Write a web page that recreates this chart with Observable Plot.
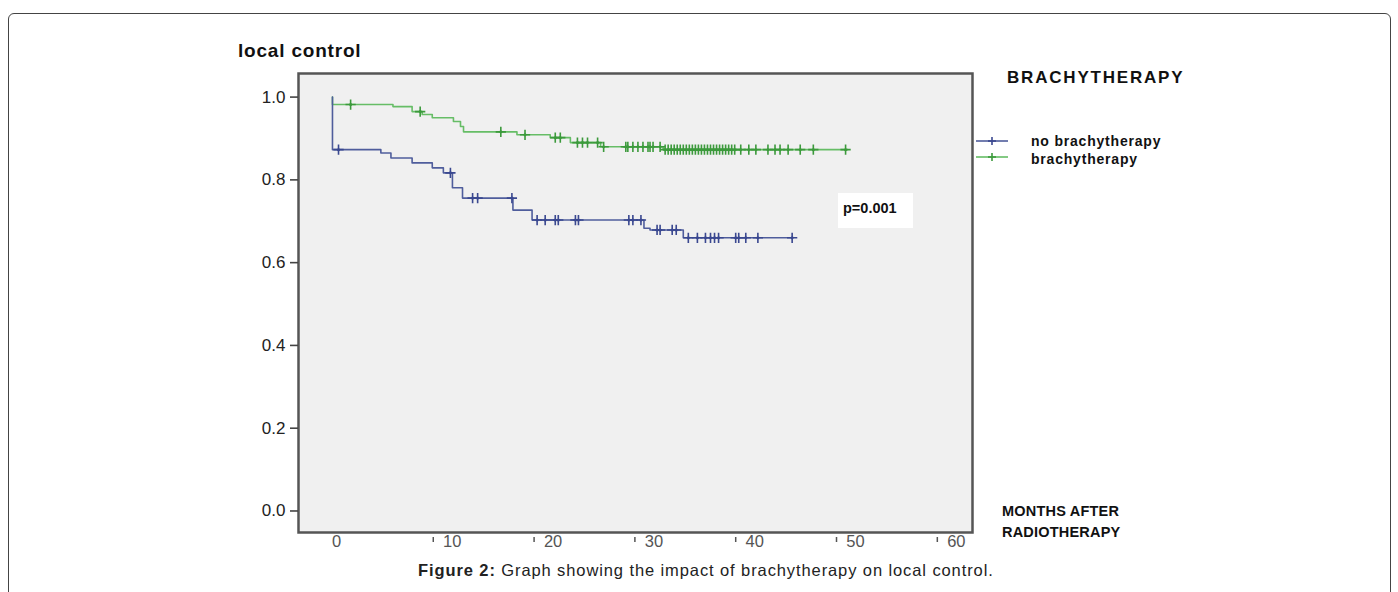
<!DOCTYPE html>
<html>
<head>
<meta charset="utf-8">
<script src="https://cdn.jsdelivr.net/npm/d3@7"></script>
<script src="https://cdn.jsdelivr.net/npm/@observablehq/plot@0.6"></script>
<style>
  html, body { margin: 0; padding: 0; background: #fff; width: 1398px; height: 592px; overflow: hidden; }
  body { position: relative; font-family: "Liberation Sans", Arial, sans-serif; color: #111; }
  .abs { position: absolute; white-space: nowrap; }
  #frame { position: absolute; left: 8px; top: 13px; width: 1381px; height: 640px; border: 1px solid #444; border-radius: 6px; }
  #chart { position: absolute; left: 0; top: 0; }
  .b { font-weight: bold; }
</style>
</head>
<body>
<div id="frame"></div>
<div id="chart"></div>
<div class="abs b" style="left:238px; top:39px; line-height:24px; font-size:19px; letter-spacing:0.8px;">local control</div>
<div class="abs b" style="left:1007px; top:66px; line-height:24px; font-size:17px; letter-spacing:1.8px;">BRACHYTHERAPY</div>
<div id="legend"></div>
<div class="abs" style="left:838px; top:193px; width:75px; height:35px; background:#fff;"></div>
<div class="abs b" style="left:843px; top:199px; line-height:18px; font-size:14.5px;">p=0.001</div>
<div class="abs b" style="left:1002px; top:501px; line-height:21px; font-size:14.5px; letter-spacing:0.2px;">MONTHS AFTER<br>RADIOTHERAPY</div>
<div class="abs" style="left:418px; top:560px; line-height:20px; font-size:16.5px; letter-spacing:0.9px; color:#222;"><span class="b">Figure 2:</span> Graph showing the impact of brachytherapy on local control.</div>
<script>
// ---- Data ----
const groups = ["no brachytherapy", "brachytherapy"];
const groupColors = ["#4f5d9c", "#66bd66"];
const censorColors = ["#3a4890", "#3c9a3c"];

// no brachytherapy: event times (months) and survival after each step
const noBrachyTimes = [0, 4.8, 5.8, 7.9, 9.9, 11.0, 11.9, 12.9, 17.9, 19.8, 30.9, 31.5, 34.8];
const noBrachySurv  = [0.873, 0.865, 0.853, 0.841, 0.829, 0.817, 0.781, 0.756, 0.727, 0.703, 0.683, 0.679, 0.660];
const noBrachyEnd = 45.6;
const noBrachyCensored = [0.6, 11.7, 13.9, 14.4, 17.8, 20.3, 21.1, 22.1, 22.4, 24.1, 24.4, 29.4, 29.8, 30.6,
  32.2, 32.5, 33.7, 34.1, 35.3, 36.2, 37.0, 37.5, 37.9, 38.3, 40.0, 40.3, 41.0, 42.2, 45.6];

// brachytherapy
const brachyTimes = [0, 6.0, 7.9, 8.9, 9.9, 12.0, 12.7, 13.0, 18.3, 21.6, 23.6, 26.6, 32.8];
const brachySurv  = [0.982, 0.977, 0.965, 0.958, 0.950, 0.941, 0.929, 0.916, 0.909, 0.902, 0.890, 0.880, 0.873];
const brachyEnd = 51.1;
const brachyCensored = [1.8, 8.7, 16.7, 19.1, 22.1, 22.6, 24.3, 24.8, 25.3, 26.3, 26.9, 29.1, 29.3, 29.8, 30.3,
  30.8, 31.3, 31.5, 31.8, 32.5, 33.0, 33.3, 33.6, 33.9, 34.2, 34.5, 34.8, 35.1, 35.4, 35.7, 36.0, 36.3, 36.6,
  36.9, 37.2, 37.5, 37.8, 38.1, 38.4, 38.7, 39.0, 39.3, 39.6, 39.9, 40.5, 41.3, 42.0, 43.2, 43.9, 44.4, 45.2,
  46.4, 47.7, 50.9];

const yTicks = [0, 0.2, 0.4, 0.6, 0.8, 1.0];
const xTicks = [0, 10, 20, 30, 40, 50, 60];

// ---- Build tables ----
function curve(group, times, surv, end) {
  const pts = [{group, t: 0, s: 1.0}];
  times.forEach((t, i) => pts.push({group, t, s: surv[i]}));
  pts.push({group, t: end, s: surv[surv.length - 1]});
  return pts;
}
function censorPts(group, times, surv, cens) {
  return cens.map(t => {
    let s = 1.0;
    for (let i = 0; i < times.length; i++) if (times[i] <= t) s = surv[i];
    return {group, t, s};
  });
}
// brachytherapy drawn first so the no-brachytherapy drop at 0 sits on top
const lines = [
  ...curve(groups[1], brachyTimes, brachySurv, brachyEnd),
  ...curve(groups[0], noBrachyTimes, noBrachySurv, noBrachyEnd)
];
const cens = [
  ...censorPts(groups[1], brachyTimes, brachySurv, brachyCensored),
  ...censorPts(groups[0], noBrachyTimes, noBrachySurv, noBrachyCensored)
];
const cColor = d => censorColors[groups.indexOf(d.group)];

const chart = Plot.plot({
  width: 1398,
  height: 560,
  marginLeft: 298,
  marginRight: 426,
  marginTop: 73,
  marginBottom: 28,
  style: {fontFamily: "'Liberation Sans', Arial, sans-serif", color: "#222", background: "transparent"},
  x: {domain: [-3.37, 63.49]},
  y: {domain: [-0.052, 1.057]},
  color: {domain: groups, range: groupColors},
  marks: [
    Plot.frame({fill: "#f0f0f0", stroke: "none"}),
    Plot.line(lines, {x: "t", y: "s", z: "group", stroke: "group", curve: "step-after", strokeWidth: 1.6}),
    Plot.dot(cens, {x: "t", y: "s", symbol: "plus", r: 3.4, strokeWidth: 1.6, stroke: cColor}),
    Plot.dot(cens, {x: "t", y: "s", r: 1.5, fill: cColor, stroke: "none"}),
    Plot.frame({stroke: "#555", strokeWidth: 2.5}),
    Plot.axisY({ticks: yTicks, tickFormat: d3.format(".1f"), tickSize: 8, tickPadding: 5, fontSize: 17,
      strokeWidth: 1.6, stroke: "#444", label: null}),
    Plot.axisX({ticks: xTicks.slice(1), tickFormat: () => "", tickSize: 5, dy: 5, strokeWidth: 1.5,
      stroke: "#555", label: null}),
    Plot.axisX({ticks: xTicks.slice(1), tickSize: 0, tickPadding: 3, dx: 19, fontSize: 16.5, fill: "#555", label: null}),
    Plot.axisX({ticks: xTicks.slice(0, 1), tickSize: 0, tickPadding: 3, dx: 4, fontSize: 16.5, fill: "#555", label: null})
  ]
});
document.getElementById("chart").appendChild(chart);

// ---- Legend ----
const legend = document.getElementById("legend");
const legendY = [141, 157];
groups.forEach((g, i) => {
  const sw = document.createElementNS("http://www.w3.org/2000/svg", "svg");
  sw.setAttribute("width", 34); sw.setAttribute("height", 12);
  sw.style.position = "absolute"; sw.style.left = "975px"; sw.style.top = (legendY[i] - 6) + "px";
  sw.innerHTML = `<line x1="1" y1="6" x2="33" y2="6" stroke="${groupColors[i]}" stroke-width="1.6"/>` +
    `<line x1="17" y1="2" x2="17" y2="10" stroke="${censorColors[i]}" stroke-width="1.6"/>` +
    `<line x1="13" y1="6" x2="21" y2="6" stroke="${censorColors[i]}" stroke-width="1.6"/>`;
  legend.appendChild(sw);
  const t = document.createElement("div");
  t.className = "abs b";
  t.style.cssText = `left:1031px; top:${legendY[i] + i * 2 - 9}px; line-height:18px; font-size:14px; letter-spacing:0.8px;`;
  t.textContent = g;
  legend.appendChild(t);
});
</script>
</body>
</html>
